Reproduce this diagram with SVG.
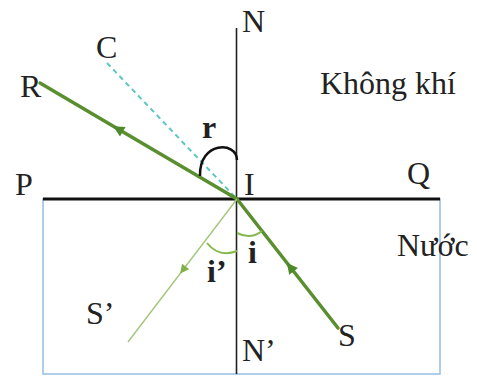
<svg xmlns="http://www.w3.org/2000/svg" width="477" height="377" viewBox="0 0 477 377">
<style>
  .lbl { font-family: "Liberation Serif", "Times New Roman", serif; font-size: 32px; fill: #222; }
  .b { font-weight: bold; }
  .ray { stroke: #5a8f2f; stroke-width: 3.5; fill: none; stroke-linecap: round; }
  .thin { stroke: #a3c77a; stroke-width: 1.4; fill: none; }
  .ang { stroke: #86b84e; stroke-width: 2; fill: none; }
</style>
<defs>
  <marker id="ah" viewBox="0 0 10 10" refX="5" refY="5" markerWidth="13" markerHeight="11" markerUnits="userSpaceOnUse" orient="auto">
    <path d="M0,0 L10,5 L0,10 z" fill="#4f8a2a"/>
  </marker>
  <marker id="ah2" viewBox="0 0 10 10" refX="5" refY="5" markerWidth="11" markerHeight="9" markerUnits="userSpaceOnUse" orient="auto">
    <path d="M0,0 L10,5 L0,10 z" fill="#7fb04a"/>
  </marker>
</defs>
<rect width="477" height="377" fill="#fff"/>
<g id="water">
  <rect x="43" y="199" width="397" height="175" fill="none" stroke="#9cc2e5" stroke-width="1.6"/>
</g>
<g id="surface">
  <line x1="43" y1="199" x2="440" y2="199" stroke="#111" stroke-width="3"/>
</g>
<g id="normal">
  <line x1="236.5" y1="28" x2="236.5" y2="374" stroke="#222" stroke-width="1.6"/>
</g>
<g id="connectors">
  <line x1="107" y1="63" x2="237" y2="199" stroke="#5cc8c0" stroke-width="2" stroke-dasharray="5,4"/>
  <path class="ray" d="M237 199 L118 129 L40 83" marker-mid="url(#ah)"/>
  <path class="ray" d="M338 328 L290.2 267 L237 199" marker-mid="url(#ah)"/>
  <path class="thin" d="M237 199 L182.9 270 L128 342" marker-mid="url(#ah2)"/>
  <path d="M200 176 C199 141, 237 141, 237 160" fill="none" stroke="#111" stroke-width="2.5"/>
  <path class="ang" d="M237 233 Q251 240 262 231"/>
  <path class="ang" d="M207 243 Q219 258 237 251"/>
</g>
<g id="labels">
  <text class="lbl" x="242" y="32">N</text>
  <text class="lbl" x="96" y="58">C</text>
  <text class="lbl" x="20" y="97">R</text>
  <text class="lbl" x="320" y="94" font-size="35">Không khí</text>
  <text class="lbl" x="15" y="195">P</text>
  <text class="lbl" x="407" y="184">Q</text>
  <text class="lbl" x="244" y="195">I</text>
  <text class="lbl b" x="202" y="138">r</text>
  <text class="lbl" x="397" y="256" font-size="35">Nước</text>
  <text class="lbl b" x="248" y="263">i</text>
  <text class="lbl b" x="207" y="282">i’</text>
  <text class="lbl" x="86" y="324">S’</text>
  <text class="lbl" x="242" y="361">N’</text>
  <text class="lbl" x="338" y="346">S</text>
</g>
</svg>
